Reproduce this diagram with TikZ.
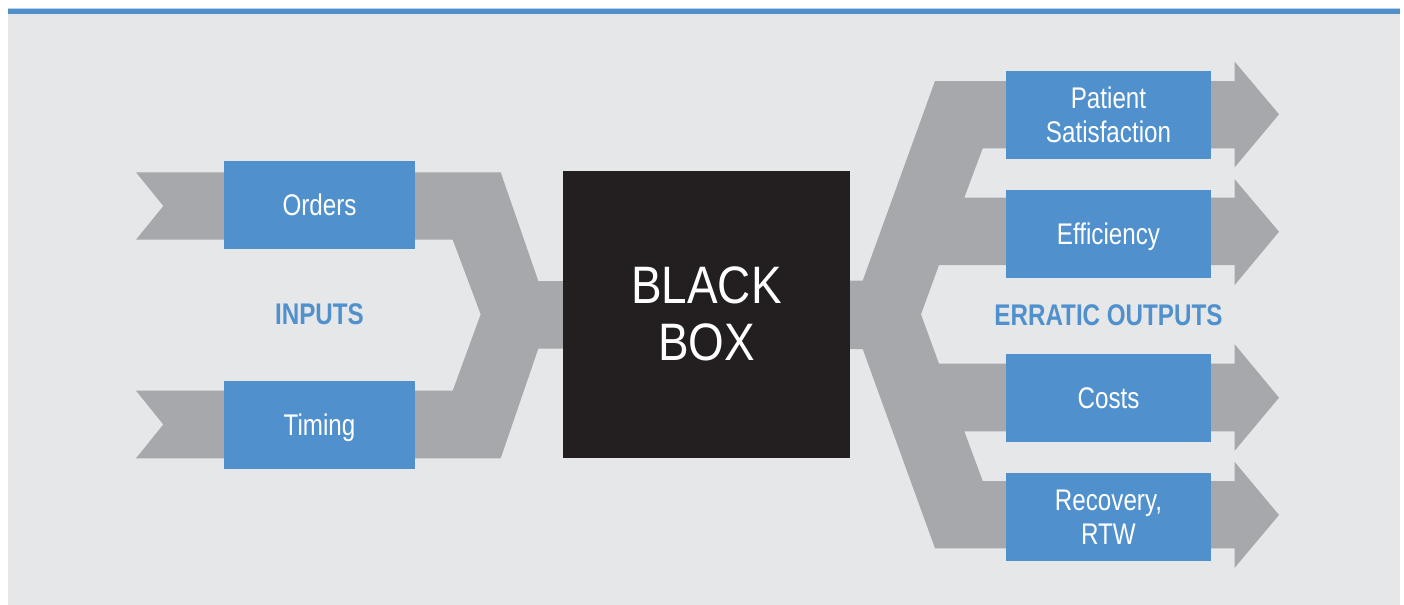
\documentclass[tikz,border=0pt]{standalone}
\usepackage{fontspec}
\setmainfont{Liberation Sans}[FakeStretch=0.81]
\newfontfamily\widefont{Liberation Sans}[FakeStretch=0.87]
\definecolor{bgGray}{HTML}{E6E7E9}
\definecolor{bandGray}{HTML}{A7A8AB}
\definecolor{boxBlue}{HTML}{4F90CD}
\definecolor{lineBlue}{HTML}{4F8FCC}
\definecolor{paleBlue}{HTML}{B9D3EC}
\definecolor{boxBlack}{HTML}{231F20}
\begin{document}
\begin{tikzpicture}[x=0.02cm,y=-0.02cm,
  factor/.style={fill=boxBlue,text=white,inner sep=0pt,align=center,
    font=\fontsize{17}{19.5}\selectfont},
  oneline/.style={text depth=0pt},
  inbox/.style={factor,oneline,minimum width=3.82cm,minimum height=1.76cm},
  outbox/.style={factor,minimum width=4.1cm,minimum height=1.755cm},
  caption/.style={text=boxBlue,font=\fontsize{17}{19.5}\selectfont\bfseries}]
\useasboundingbox (0,0) rectangle (1404,605);
% frame
\fill[bgGray] (8,14) rectangle (1400,605);
\fill[paleBlue] (8,8) rectangle (1400,9);
\fill[lineBlue] (8,9) rectangle (1400,14);

% input bands
\fill[bandGray]
(136,172.3) -- (500.7,172.3) -- (538.3,281) -- (564,281) -- (564,348.7)
-- (538.3,348.7) -- (500.7,458.3) -- (136,458.3) -- (163.3,424.5)
-- (136,390.7) -- (452.7,390.7) -- (480.7,314.3) -- (452.7,239.7)
-- (136,239.7) -- (163.3,206) -- cycle;

% output bands
\fill[bandGray]
(849,280.7) -- (862.7,280.7) -- (935,81) -- (1234.7,81) -- (1234.7,61.7)
-- (1279,114.3) -- (1234.7,167.3) -- (1234.7,148.3) -- (982.7,148.3)
-- (964.3,197.7) -- (1234.7,197.7) -- (1234.7,179.3) -- (1279,231.7)
-- (1234.7,285) -- (1234.7,265) -- (939,265) -- (921,314.3)
-- (939,363.7) -- (1234.7,363.7) -- (1234.7,344.3) -- (1279,397.7)
-- (1234.7,450.7) -- (1234.7,431.3) -- (964.3,431.3) -- (982.7,481)
-- (1234.7,481) -- (1234.7,462) -- (1279,515) -- (1234.7,567.7)
-- (1234.7,548.3) -- (935,548.3) -- (862.7,349) -- (849,349) -- cycle;

\node[inbox] (orders) at (319.5,205) {Orders};
\node[inbox] (timing) at (319.5,424.8) {Timing};
\node[caption] (inputs) at (319.5,314.5) {INPUTS};

\node[fill=boxBlack,text=white,inner sep=0pt,minimum width=5.74cm,
  minimum height=5.73cm,align=center,
  font=\widefont\fontsize{30}{32.5}\selectfont] (blackbox) at (706.5,314.3) {BLACK\\BOX};

\node[outbox] (patient) at (1108.5,114.9) {Patient\\Satisfaction};
\node[outbox,oneline] (efficiency) at (1108.5,233.9) {Efficiency};
\node[caption] (outputs) at (1108.5,315) {ERRATIC OUTPUTS};
\node[outbox,oneline] (costs) at (1108.5,397.9) {Costs};
\node[outbox] (recovery) at (1108.5,516.9) {Recovery,\\RTW};
\end{tikzpicture}
\end{document}
